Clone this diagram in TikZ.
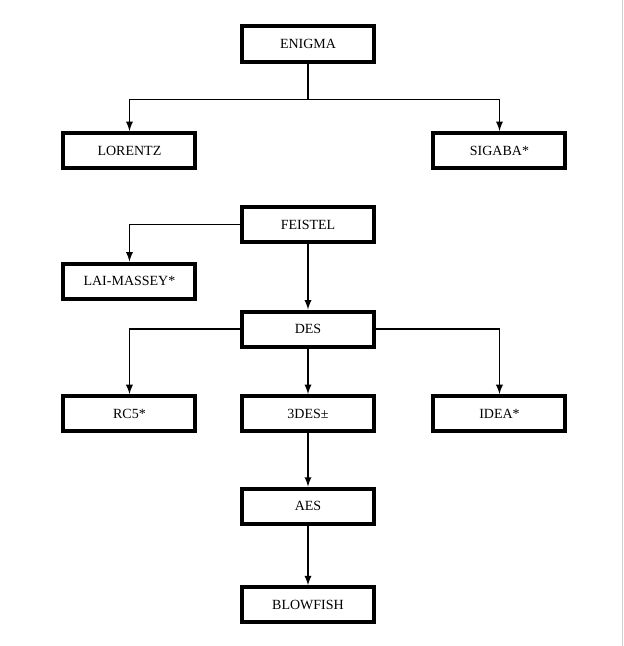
\documentclass[tikz,border=0pt]{standalone}
\usepackage{fontspec}
\setmainfont{Liberation Serif}
\usetikzlibrary{arrows,
                positioning}
\tikzset{cipher/.style =
   {rectangle,
    draw,
    line width=3pt,
    text centered,
    minimum width=99pt,
    minimum height=26.3pt,
    font=\fontsize{10.5}{12}\selectfont}}
\tikzset{arrow/.style = {draw, line width=1.4pt, -latex}}

\begin{document}
\begin{tikzpicture}

    \useasboundingbox (0,0) rectangle (468pt,-484.5pt);
    \draw [black!18, line width=0.8pt] (466.8pt,0) -- (466.8pt,-484.5pt);

    % first family
    \node [cipher] (enigma) at (231pt,-33pt) {ENIGMA};
    \node [cipher,
           below left = 50.6pt and 31.9pt of enigma] (lorentz) {LORENTZ};
    \node [cipher,
           below right = 50.6pt and 41.6pt of enigma] (sigaba) {SIGABA*};

    % second family
    \node [cipher,
           below = 106.1pt of enigma] (feistel) {FEISTEL};
    \node [cipher,
           below left = 13.1pt and 31.9pt of feistel] (laimassey) {LAI-MASSEY*};
    \node [cipher,
           below = 49.1pt of feistel] (des) {DES};
    \node [cipher,
           below = 34.1pt of des] (tdes) {3DES±};
    \node [cipher,
           left = 31.9pt of tdes] (rcfive) {RC5*};
    \node [cipher,
           right = 41.6pt of tdes] (idea) {IDEA*};
    \node [cipher,
           below = 40.1pt of tdes] (aes) {AES};
    \node [cipher,
           below = 44.6pt of aes] (blowfish) {BLOWFISH};

    \draw [arrow] (enigma.south) -- ++(0,-27pt) -| (lorentz.north);
    \draw [arrow] (enigma.south) -- ++(0,-27pt) -| (sigaba.north);
    \draw [arrow] (feistel.west) -| (laimassey.north);
    \draw [arrow] (feistel) -- (des);
    \draw [arrow] (des.west) -| (rcfive.north);
    \draw [arrow] (des.east) -| (idea.north);
    \draw [arrow] (des) -- (tdes);
    \draw [arrow] (tdes) -- (aes);
    \draw [arrow] (aes) -- (blowfish);

\end{tikzpicture}
\end{document}
